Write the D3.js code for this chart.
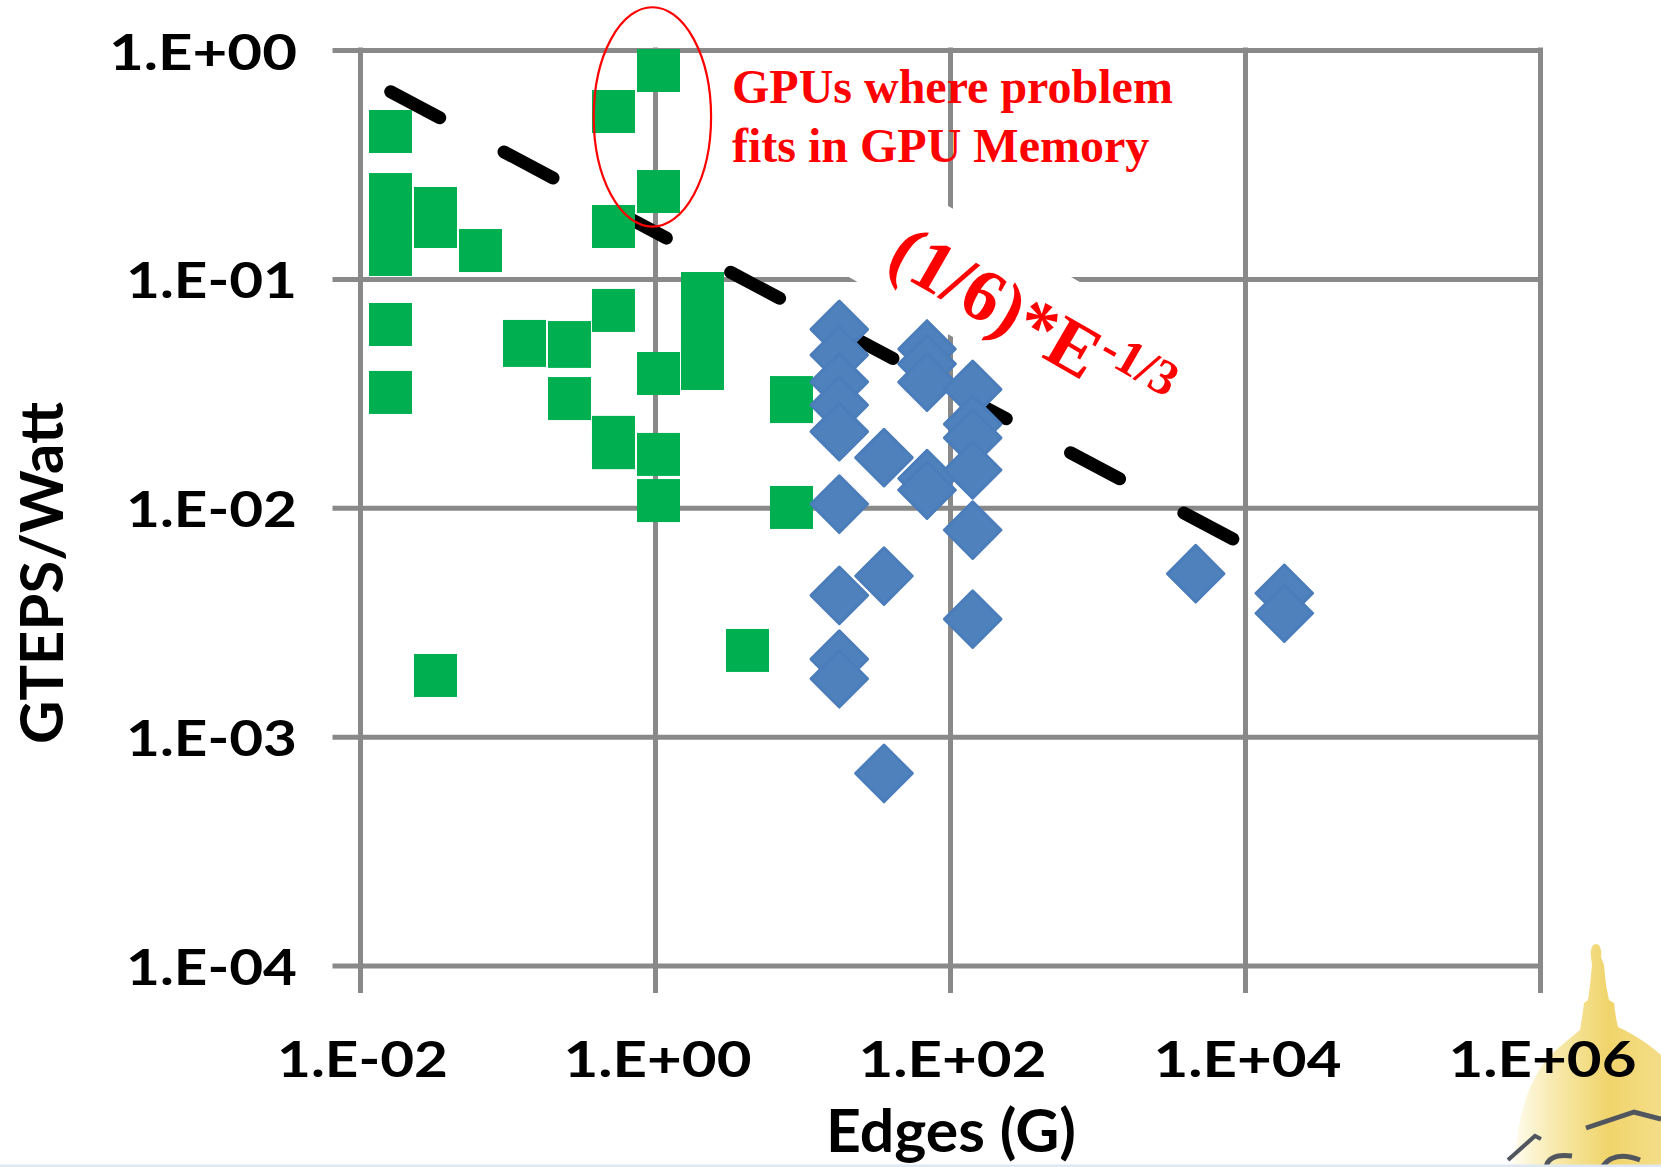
<!DOCTYPE html>
<html>
<head>
<meta charset="utf-8">
<script src="https://cdn.jsdelivr.net/npm/d3@7"></script>
<style>
  html, body { margin: 0; padding: 0; background: #fff; }
  svg { display: block; }
</style>
</head>
<body>
<svg id="chart" width="1661" height="1167"></svg>
<script>
// ---- data -------------------------------------------------------------
// Green square series: problem size (G edges) vs. GTEPS/Watt
const squareEdges = [
  0.0161, 0.0161, 0.0161, 0.0161, 0.0325, 0.0325, 0.0656, 0.523, 1.056, 1.056,
  0.523, 2.099, 2.099, 2.099, 0.0161, 0.0161, 0.1304, 0.1304, 0.2633, 0.2633,
  0.523, 1.056, 0.2633, 0.523, 0.523, 1.056, 1.056, 8.42, 8.42, 8.42,
  4.238, 0.0325
];
const squareGteps = [
  0.4405, 0.2336, 0.1729, 0.1278, 0.2030, 0.1694, 0.1330, 0.5386, 0.8136, 0.2408,
  0.1694, 0.0863, 0.0592, 0.0406, 0.0632, 0.0319, 0.0533, 0.0512, 0.0527, 0.0507,
  0.0728, 0.0386, 0.0300, 0.0203, 0.0183, 0.0171, 0.01075, 0.0303, 0.0291, 0.01003,
  0.00238, 0.00185
];

// Blue diamond series
const diamondEdges = [
  17.76, 17.76, 17.76, 17.76, 17.76, 17.76, 17.76, 17.76, 17.76,
  35.68, 35.68, 35.68,
  69.86, 69.86, 69.86, 69.86, 69.86,
  142.5, 142.5, 142.5, 142.5, 142.5, 142.5,
  4632, 18470, 18470
];
const diamondGteps = [
  0.0602, 0.0465, 0.0355, 0.0281, 0.0215, 0.01038, 0.00414, 0.00218, 0.00179,
  0.01655, 0.00503, 0.000691,
  0.0494, 0.0425, 0.0354, 0.01342, 0.01195,
  0.0329, 0.0232, 0.0202, 0.01462, 0.00799, 0.00326,
  0.00515, 0.00423, 0.00346
];

// Dashed reference trend (end points)
const fitEdges = [0.01615, 8330];
const fitGteps = [0.6573, 0.007283];

// Axis ticks
const xTickValues = [1e-2, 1e0, 1e2, 1e4, 1e6];
const xTickLabels = ["1.E-02", "1.E+00", "1.E+02", "1.E+04", "1.E+06"];
const yTickValues = [1e-4, 1e-3, 1e-2, 1e-1, 1e0];
const yTickLabels = ["1.E-04", "1.E-03", "1.E-02", "1.E-01", "1.E+00"];

// ---- layout -----------------------------------------------------------
const W = 1661, H = 1167;
const plot = { left: 360, right: 1540, top: 50, bottom: 965.5 };
const tickOut = 25;
const gridColor = "#898989";
const sansFont = "Lato, 'Open Sans', 'Liberation Sans', sans-serif";
const serifFont = "'Liberation Serif', 'Times New Roman', serif";

const x = d3.scaleLog().domain([1e-2, 1e6]).range([plot.left, plot.right]);
const y = d3.scaleLog().domain([1e-4, 1]).range([plot.bottom, plot.top]);

const svg = d3.select("#chart");
const defs = svg.append("defs");

svg.append("rect").attr("width", W).attr("height", H).attr("fill", "#fff");

// ---- golden dome emblem (bottom right corner) ---------------------------
const grad = defs.append("linearGradient").attr("id", "domeGold")
  .attr("x1", 0).attr("y1", 0).attr("x2", 1).attr("y2", 0);
grad.append("stop").attr("offset", "0%").attr("stop-color", "#fffdf2");
grad.append("stop").attr("offset", "30%").attr("stop-color", "#f7e9ab");
grad.append("stop").attr("offset", "65%").attr("stop-color", "#f0d46b");
grad.append("stop").attr("offset", "100%").attr("stop-color", "#f4dd88");

const emblem = svg.append("g").attr("class", "emblem");
emblem.append("path")
  .attr("d", "M1596,944 C1600,944 1602,950 1601,957 L1604,965 L1606,985 L1609,1000 " +
             "L1614,1003 L1616,1018 L1618,1027 C1635,1035 1650,1045 1661,1055 " +
             "L1661,1167 L1511,1167 L1517,1140 C1522,1100 1535,1065 1562,1045 " +
             "L1580,1030 L1582,1018 L1584,1003 L1588,1000 L1590,985 L1592,965 L1591,957 " +
             "C1590,950 1592,944 1596,944 Z")
  .attr("fill", "url(#domeGold)");
emblem.append("path")
  .attr("d", "M1586,1128 L1634,1112 L1661,1119")
  .attr("fill", "none").attr("stroke", "#50555e").attr("stroke-width", 5);
emblem.append("path")
  .attr("d", "M1508,1160 L1535,1136 L1541,1139")
  .attr("fill", "none").attr("stroke", "#50555e").attr("stroke-width", 4);
emblem.append("path")
  .attr("d", "M1546,1167 Q1549,1153 1572,1156 M1602,1167 Q1614,1150 1640,1160")
  .attr("fill", "none").attr("stroke", "#50555e").attr("stroke-width", 5);
svg.append("rect").attr("x", 0).attr("y", 1164.5).attr("width", W).attr("height", 2.5)
  .attr("fill", "#dde8f3");

// ---- axes and grid ------------------------------------------------------
const yAxis = d3.axisLeft(y)
  .tickValues(yTickValues)
  .tickFormat((d, i) => yTickLabels[i])
  .tickSizeInner(-(plot.right - plot.left + tickOut))
  .tickSizeOuter(0)
  .tickPadding(38);
const gy = svg.append("g")
  .attr("transform", `translate(${plot.left - tickOut},0)`)
  .call(yAxis);
gy.select(".domain").remove();

const xAxis = d3.axisBottom(x)
  .tickValues(xTickValues)
  .tickFormat((d, i) => xTickLabels[i])
  .tickSizeInner(-(plot.bottom + tickOut - plot.top))
  .tickSizeOuter(0);
const gx = svg.append("g")
  .attr("transform", `translate(0,${plot.bottom + tickOut})`)
  .call(xAxis);
gx.select(".domain").remove();

svg.selectAll(".tick line")
  .attr("stroke", gridColor)
  .attr("stroke-width", 5)
  .attr("stroke-linecap", "square");

const labelWidth = s => (s.includes("+") ? 188 : 171);

gy.selectAll(".tick text")
  .attr("dy", "0.38em")
  .attr("fill", "#000")
  .style("font-family", sansFont)
  .style("font-weight", 700)
  .style("font-size", "50px")
  .attr("textLength", (d, i) => labelWidth(yTickLabels[i]))
  .attr("lengthAdjust", "spacingAndGlyphs");

gx.selectAll(".tick text")
  .attr("y", 86)
  .attr("dy", 0)
  .attr("dx", 2)
  .attr("fill", "#000")
  .style("font-family", sansFont)
  .style("font-weight", 700)
  .style("font-size", "50px")
  .attr("textLength", (d, i) => labelWidth(xTickLabels[i]))
  .attr("lengthAdjust", "spacingAndGlyphs");

// ---- backing of the rotated formula label (hides grid behind it) --------
const formulaAnchor = { x: 884, y: 266, angle: 30 };
svg.append("rect")
  .attr("transform", `translate(${formulaAnchor.x},${formulaAnchor.y}) rotate(${formulaAnchor.angle})`)
  .attr("x", -30).attr("y", -84)
  .attr("width", 350).attr("height", 111)
  .attr("fill", "#fff");

// ---- dashed trend line --------------------------------------------------
const fitPoints = fitEdges.map((e, i) => [e, fitGteps[i]]);
svg.append("path")
  .datum(fitPoints)
  .attr("d", d3.line().x(d => x(d[0])).y(d => y(d[1])))
  .attr("fill", "none")
  .attr("stroke", "#000")
  .attr("stroke-width", 13)
  .attr("stroke-linecap", "round")
  .attr("stroke-dasharray", "55.5 72.8");

// ---- markers ------------------------------------------------------------
const squareSide = 43;
const squares = squareEdges.map((e, i) => ({ e, g: squareGteps[i] }));
svg.append("g").selectAll("rect")
  .data(squares)
  .join("rect")
  .attr("x", d => x(d.e) - squareSide / 2)
  .attr("y", d => y(d.g) - squareSide / 2)
  .attr("width", squareSide)
  .attr("height", squareSide)
  .attr("fill", "#00B050");

const diamonds = diamondEdges.map((e, i) => ({ e, g: diamondGteps[i] }));
const diamondShape = d3.symbol(d3.symbolSquare, 40 * 40)();
svg.append("g").selectAll("path")
  .data(diamonds)
  .join("path")
  .attr("d", diamondShape)
  .attr("transform", d => `translate(${x(d.e)},${y(d.g)}) rotate(45)`)
  .attr("fill", "#4F81BD")
  .attr("stroke", "#4A7DBA")
  .attr("stroke-width", 3)
  .attr("stroke-linejoin", "round");

// ---- annotations --------------------------------------------------------
svg.append("ellipse")
  .attr("cx", x(0.96))
  .attr("cy", y(0.51))
  .attr("rx", 58.7)
  .attr("ry", 109.7)
  .attr("fill", "none")
  .attr("stroke", "#FF0000")
  .attr("stroke-width", 2.2);

const note = svg.append("text")
  .attr("fill", "#FF0000")
  .style("font-family", serifFont)
  .style("font-weight", 700)
  .style("font-size", "48px");
note.append("tspan").attr("x", 732).attr("y", 103.3).text("GPUs where problem");
note.append("tspan").attr("x", 732).attr("y", 161.7).text("fits in GPU Memory");

const formula = svg.append("text")
  .attr("transform", `translate(${formulaAnchor.x},${formulaAnchor.y}) rotate(${formulaAnchor.angle})`)
  .attr("fill", "#FF0000")
  .style("font-family", serifFont)
  .style("font-weight", 700)
  .style("font-size", "74px");
formula.append("tspan").text("(1/6)*E");
formula.append("tspan").attr("dy", -27).style("font-size", "50px").text("-1/3");

// ---- axis titles --------------------------------------------------------
svg.append("text")
  .attr("transform", "translate(63,573) rotate(-90)")
  .attr("text-anchor", "middle")
  .attr("fill", "#000")
  .style("font-family", sansFont)
  .style("font-weight", 700)
  .style("font-size", "60px")
  .attr("textLength", 342)
  .attr("lengthAdjust", "spacingAndGlyphs")
  .text("GTEPS/Watt");

svg.append("text")
  .attr("x", 951)
  .attr("y", 1152)
  .attr("text-anchor", "middle")
  .attr("fill", "#000")
  .style("font-family", sansFont)
  .style("font-weight", 700)
  .style("font-size", "60px")
  .attr("textLength", 250)
  .attr("lengthAdjust", "spacingAndGlyphs")
  .text("Edges (G)");
</script>
</body>
</html>
